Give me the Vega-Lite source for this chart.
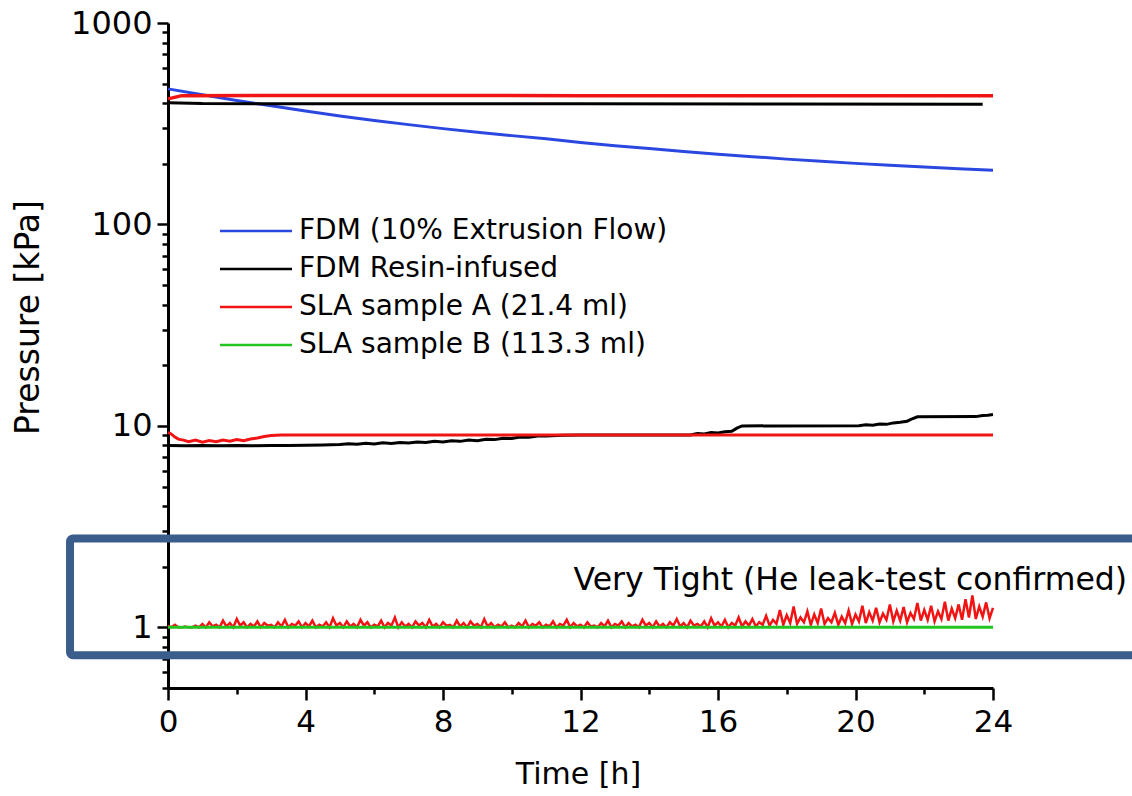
{
  "$schema": "https://vega.github.io/schema/vega-lite/v6.json",
  "width": 825,
  "height": 665,
  "autosize": {"type": "none"},
  "padding": {"left": 168, "top": 23, "right": 139, "bottom": 108},
  "background": "white",
  "config": {
    "view": {"stroke": null},
    "axis": {
      "grid": false,
      "domainColor": "#000000",
      "domainWidth": 3,
      "tickColor": "#000000",
      "tickWidth": 2.5,
      "labelColor": "#000000",
      "titleColor": "#000000",
      "labelFont": "DejaVu Sans",
      "titleFont": "DejaVu Sans",
      "titleFontWeight": "normal",
      "labelOverlap": false,
      "labelFlush": false
    },
    "legend": {
      "orient": "none",
      "legendX": 74,
      "legendY": 194,
      "title": null,
      "padding": 0,
      "symbolType": "M-3,0H3",
      "symbolSize": 576,
      "symbolStrokeWidth": 2.5,
      "labelFont": "DejaVu Sans",
      "labelFontSize": 28,
      "labelColor": "#000000",
      "labelOffset": 29,
      "labelLimit": 800,
      "rowPadding": 10
    }
  },
  "encoding": {
    "x": {
      "field": "t",
      "type": "quantitative",
      "scale": {"domain": [0, 24], "nice": false, "zero": false},
      "axis": {
        "title": "Time [h]",
        "values": [0, 2, 4, 6, 8, 10, 12, 14, 16, 18, 20, 22, 24],
        "labelExpr": "datum.value % 4 === 0 ? datum.label : ''",
        "tickSize": {"condition": {"test": "datum.value % 4 === 0", "value": 12}, "value": 6},
        "labelFontSize": 31,
        "labelPadding": 7,
        "titleFontSize": 30,
        "titleX": 410,
        "titleY": 95,
        "titleAlign": "center",
        "titleBaseline": "alphabetic"
      }
    },
    "y": {
      "field": "p",
      "type": "quantitative",
      "scale": {"type": "log", "domain": [0.5, 1000], "nice": false},
      "axis": {
        "title": "Pressure [kPa]",
        "values": [0.5, 0.6, 0.7, 0.8, 0.9, 1, 2, 3, 4, 5, 6, 7, 8, 9, 10, 20, 30, 40, 50, 60, 70, 80, 90, 100, 200, 300, 400, 500, 600, 700, 800, 900, 1000],
        "labelExpr": "indexof([1, 10, 100, 1000], datum.value) >= 0 ? format(datum.value, 'd') : ''",
        "tickSize": {"condition": {"test": "indexof([1, 10, 100, 1000], datum.value) >= 0", "value": 11}, "value": 6},
        "labelFontSize": 32,
        "labelPadding": 5,
        "titleFontSize": 33,
        "titleX": -140,
        "titleY": 294,
        "titleAngle": -90,
        "titleAlign": "center",
        "titleBaseline": "middle"
      }
    }
  },
  "layer": [
    {
      "data": {"values": [
        {"t": 0, "p": 8.0}, {"t": 0.5, "p": 7.97}, {"t": 1, "p": 8.0}, {"t": 1.5, "p": 7.98}, {"t": 2, "p": 8.0}, {"t": 2.5, "p": 7.98}, {"t": 3, "p": 8.0}, {"t": 3.5, "p": 8.0}, {"t": 4, "p": 8.02}, {"t": 4.5, "p": 8.05}, {"t": 5, "p": 8.08}, {"t": 5.25, "p": 8.16}, {"t": 5.5, "p": 8.1}, {"t": 5.75, "p": 8.2}, {"t": 6, "p": 8.14}, {"t": 6.25, "p": 8.24}, {"t": 6.5, "p": 8.18}, {"t": 6.75, "p": 8.28}, {"t": 7, "p": 8.22}, {"t": 7.25, "p": 8.33}, {"t": 7.5, "p": 8.27}, {"t": 7.75, "p": 8.38}, {"t": 8, "p": 8.32}, {"t": 8.25, "p": 8.43}, {"t": 8.5, "p": 8.38}, {"t": 8.75, "p": 8.5}, {"t": 9, "p": 8.45}, {"t": 9.25, "p": 8.58}, {"t": 9.5, "p": 8.55}, {"t": 9.75, "p": 8.68}, {"t": 10, "p": 8.65}, {"t": 10.25, "p": 8.8}, {"t": 10.5, "p": 8.78}, {"t": 10.75, "p": 8.9}, {"t": 11, "p": 8.9}, {"t": 11.5, "p": 8.98}, {"t": 12, "p": 9.0}, {"t": 15.2, "p": 9.02}, {"t": 15.4, "p": 9.18}, {"t": 15.6, "p": 9.12}, {"t": 15.8, "p": 9.26}, {"t": 16.0, "p": 9.22}, {"t": 16.2, "p": 9.35}, {"t": 16.4, "p": 9.4}, {"t": 16.55, "p": 9.75}, {"t": 16.7, "p": 10.0}, {"t": 20.1, "p": 10.02}, {"t": 20.3, "p": 10.12}, {"t": 20.5, "p": 10.08}, {"t": 20.7, "p": 10.22}, {"t": 20.9, "p": 10.18}, {"t": 21.1, "p": 10.35}, {"t": 21.3, "p": 10.42}, {"t": 21.5, "p": 10.55}, {"t": 21.65, "p": 10.85}, {"t": 21.8, "p": 11.1}, {"t": 23.5, "p": 11.12}, {"t": 23.7, "p": 11.25}, {"t": 23.85, "p": 11.3}, {"t": 24, "p": 11.4}
      ]},
      "mark": {"type": "line", "strokeWidth": 3},
      "encoding": {
        "color": {
          "datum": "FDM Resin-infused",
          "type": "nominal",
          "scale": {
            "domain": ["FDM (10% Extrusion Flow)", "FDM Resin-infused", "SLA sample A (21.4 ml)", "SLA sample B (113.3 ml)"],
            "range": ["#2a48e0", "#000000", "#f01414", "#22c422"]
          }
        }
      }
    },
    {
      "data": {"values": [
        {"t": 0, "p": 9.3}, {"t": 0.1, "p": 9.1}, {"t": 0.2, "p": 8.8}, {"t": 0.3, "p": 8.6}, {"t": 0.45, "p": 8.5}, {"t": 0.6, "p": 8.35}, {"t": 0.8, "p": 8.5}, {"t": 1.0, "p": 8.3}, {"t": 1.2, "p": 8.45}, {"t": 1.4, "p": 8.35}, {"t": 1.6, "p": 8.5}, {"t": 1.8, "p": 8.4}, {"t": 2.0, "p": 8.55}, {"t": 2.2, "p": 8.45}, {"t": 2.4, "p": 8.6}, {"t": 2.6, "p": 8.7}, {"t": 2.8, "p": 8.85}, {"t": 3.0, "p": 8.95}, {"t": 3.3, "p": 9.0}, {"t": 8, "p": 9.0}, {"t": 14, "p": 9.0}, {"t": 19, "p": 9.0}, {"t": 24, "p": 9.0}
      ]},
      "mark": {"type": "line", "strokeWidth": 3},
      "encoding": {"color": {"datum": "SLA sample A (21.4 ml)", "type": "nominal"}}
    },
    {
      "data": {"values": [
        {"t": 0.0, "p": 1.02}, {"t": 0.1, "p": 1.0}, {"t": 0.2, "p": 1.03}, {"t": 0.3, "p": 1.0}, {"t": 0.4, "p": 1.0}, {"t": 0.5, "p": 1.01}, {"t": 0.6, "p": 1.0}, {"t": 0.7, "p": 1.0}, {"t": 0.8, "p": 1.02}, {"t": 0.9, "p": 1.0},
        {"t": 1.0, "p": 1.04}, {"t": 1.1, "p": 1.0}, {"t": 1.2, "p": 1.06}, {"t": 1.3, "p": 1.01}, {"t": 1.4, "p": 1.03}, {"t": 1.5, "p": 1.0}, {"t": 1.6, "p": 1.08}, {"t": 1.7, "p": 1.01}, {"t": 1.8, "p": 1.05}, {"t": 1.9, "p": 1.0},
        {"t": 2.0, "p": 1.1}, {"t": 2.1, "p": 1.02}, {"t": 2.2, "p": 1.06}, {"t": 2.3, "p": 1.0}, {"t": 2.4, "p": 1.04}, {"t": 2.5, "p": 1.01}, {"t": 2.6, "p": 1.07}, {"t": 2.7, "p": 1.0}, {"t": 2.8, "p": 1.05}, {"t": 2.9, "p": 1.02},
        {"t": 3.0, "p": 1.03}, {"t": 3.1, "p": 1.0}, {"t": 3.2, "p": 1.06}, {"t": 3.3, "p": 1.01}, {"t": 3.4, "p": 1.09}, {"t": 3.5, "p": 1.0}, {"t": 3.6, "p": 1.04}, {"t": 3.7, "p": 1.02}, {"t": 3.8, "p": 1.07}, {"t": 3.9, "p": 1.0},
        {"t": 4.0, "p": 1.05}, {"t": 4.1, "p": 1.01}, {"t": 4.2, "p": 1.08}, {"t": 4.3, "p": 1.0}, {"t": 4.4, "p": 1.03}, {"t": 4.5, "p": 1.01}, {"t": 4.6, "p": 1.06}, {"t": 4.7, "p": 1.0}, {"t": 4.8, "p": 1.11}, {"t": 4.9, "p": 1.02},
        {"t": 5.0, "p": 1.05}, {"t": 5.1, "p": 1.0}, {"t": 5.2, "p": 1.07}, {"t": 5.3, "p": 1.01}, {"t": 5.4, "p": 1.04}, {"t": 5.5, "p": 1.0}, {"t": 5.6, "p": 1.09}, {"t": 5.7, "p": 1.02}, {"t": 5.8, "p": 1.06}, {"t": 5.9, "p": 1.0},
        {"t": 6.0, "p": 1.03}, {"t": 6.1, "p": 1.01}, {"t": 6.2, "p": 1.08}, {"t": 6.3, "p": 1.0}, {"t": 6.4, "p": 1.05}, {"t": 6.5, "p": 1.02}, {"t": 6.6, "p": 1.12}, {"t": 6.7, "p": 1.0}, {"t": 6.8, "p": 1.06}, {"t": 6.9, "p": 1.01},
        {"t": 7.0, "p": 1.04}, {"t": 7.1, "p": 1.0}, {"t": 7.2, "p": 1.07}, {"t": 7.3, "p": 1.02}, {"t": 7.4, "p": 1.05}, {"t": 7.5, "p": 1.0}, {"t": 7.6, "p": 1.09}, {"t": 7.7, "p": 1.01}, {"t": 7.8, "p": 1.04}, {"t": 7.9, "p": 1.0},
        {"t": 8.0, "p": 1.06}, {"t": 8.1, "p": 1.02}, {"t": 8.2, "p": 1.03}, {"t": 8.3, "p": 1.0}, {"t": 8.4, "p": 1.08}, {"t": 8.5, "p": 1.01}, {"t": 8.6, "p": 1.05}, {"t": 8.7, "p": 1.0}, {"t": 8.8, "p": 1.07}, {"t": 8.9, "p": 1.02},
        {"t": 9.0, "p": 1.04}, {"t": 9.1, "p": 1.0}, {"t": 9.2, "p": 1.1}, {"t": 9.3, "p": 1.01}, {"t": 9.4, "p": 1.05}, {"t": 9.5, "p": 1.0}, {"t": 9.6, "p": 1.03}, {"t": 9.7, "p": 1.01}, {"t": 9.8, "p": 1.06}, {"t": 9.9, "p": 1.0},
        {"t": 10.0, "p": 1.02}, {"t": 10.1, "p": 1.0}, {"t": 10.2, "p": 1.05}, {"t": 10.3, "p": 1.01}, {"t": 10.4, "p": 1.08}, {"t": 10.5, "p": 1.0}, {"t": 10.6, "p": 1.04}, {"t": 10.7, "p": 1.02}, {"t": 10.8, "p": 1.06}, {"t": 10.9, "p": 1.0},
        {"t": 11.0, "p": 1.03}, {"t": 11.1, "p": 1.01}, {"t": 11.2, "p": 1.07}, {"t": 11.3, "p": 1.0}, {"t": 11.4, "p": 1.04}, {"t": 11.5, "p": 1.02}, {"t": 11.6, "p": 1.09}, {"t": 11.7, "p": 1.0}, {"t": 11.8, "p": 1.05}, {"t": 11.9, "p": 1.01},
        {"t": 12.0, "p": 1.03}, {"t": 12.1, "p": 1.0}, {"t": 12.2, "p": 1.06}, {"t": 12.3, "p": 1.01}, {"t": 12.4, "p": 1.02}, {"t": 12.5, "p": 1.0}, {"t": 12.6, "p": 1.05}, {"t": 12.7, "p": 1.01}, {"t": 12.8, "p": 1.08}, {"t": 12.9, "p": 1.0},
        {"t": 13.0, "p": 1.04}, {"t": 13.1, "p": 1.02}, {"t": 13.2, "p": 1.07}, {"t": 13.3, "p": 1.0}, {"t": 13.4, "p": 1.05}, {"t": 13.5, "p": 1.01}, {"t": 13.6, "p": 1.03}, {"t": 13.7, "p": 1.0}, {"t": 13.8, "p": 1.09}, {"t": 13.9, "p": 1.02},
        {"t": 14.0, "p": 1.05}, {"t": 14.1, "p": 1.0}, {"t": 14.2, "p": 1.07}, {"t": 14.3, "p": 1.01}, {"t": 14.4, "p": 1.04}, {"t": 14.5, "p": 1.0}, {"t": 14.6, "p": 1.06}, {"t": 14.7, "p": 1.02}, {"t": 14.8, "p": 1.1}, {"t": 14.9, "p": 1.01},
        {"t": 15.0, "p": 1.05}, {"t": 15.1, "p": 1.0}, {"t": 15.2, "p": 1.08}, {"t": 15.3, "p": 1.02}, {"t": 15.4, "p": 1.04}, {"t": 15.5, "p": 1.01}, {"t": 15.6, "p": 1.07}, {"t": 15.7, "p": 1.0}, {"t": 15.8, "p": 1.11}, {"t": 15.9, "p": 1.02},
        {"t": 16.0, "p": 1.06}, {"t": 16.1, "p": 1.01}, {"t": 16.2, "p": 1.09}, {"t": 16.3, "p": 1.0}, {"t": 16.4, "p": 1.05}, {"t": 16.5, "p": 1.02}, {"t": 16.6, "p": 1.12}, {"t": 16.7, "p": 1.01}, {"t": 16.8, "p": 1.07}, {"t": 16.9, "p": 1.02},
        {"t": 17.0, "p": 1.1}, {"t": 17.1, "p": 1.01}, {"t": 17.2, "p": 1.06}, {"t": 17.3, "p": 1.03}, {"t": 17.4, "p": 1.14}, {"t": 17.5, "p": 1.02}, {"t": 17.6, "p": 1.09}, {"t": 17.7, "p": 1.04}, {"t": 17.8, "p": 1.22}, {"t": 17.9, "p": 1.03},
        {"t": 18.0, "p": 1.15}, {"t": 18.1, "p": 1.05}, {"t": 18.2, "p": 1.27}, {"t": 18.3, "p": 1.04}, {"t": 18.4, "p": 1.12}, {"t": 18.5, "p": 1.06}, {"t": 18.6, "p": 1.2}, {"t": 18.7, "p": 1.03}, {"t": 18.8, "p": 1.16}, {"t": 18.9, "p": 1.05},
        {"t": 19.0, "p": 1.24}, {"t": 19.1, "p": 1.04}, {"t": 19.2, "p": 1.11}, {"t": 19.3, "p": 1.06}, {"t": 19.4, "p": 1.18}, {"t": 19.5, "p": 1.03}, {"t": 19.6, "p": 1.13}, {"t": 19.7, "p": 1.05}, {"t": 19.8, "p": 1.21}, {"t": 19.9, "p": 1.04},
        {"t": 20.0, "p": 1.16}, {"t": 20.1, "p": 1.07}, {"t": 20.2, "p": 1.28}, {"t": 20.3, "p": 1.05}, {"t": 20.4, "p": 1.19}, {"t": 20.5, "p": 1.08}, {"t": 20.6, "p": 1.25}, {"t": 20.7, "p": 1.06}, {"t": 20.8, "p": 1.17}, {"t": 20.9, "p": 1.09},
        {"t": 21.0, "p": 1.3}, {"t": 21.1, "p": 1.07}, {"t": 21.2, "p": 1.21}, {"t": 21.3, "p": 1.08}, {"t": 21.4, "p": 1.26}, {"t": 21.5, "p": 1.06}, {"t": 21.6, "p": 1.18}, {"t": 21.7, "p": 1.1}, {"t": 21.8, "p": 1.32}, {"t": 21.9, "p": 1.08},
        {"t": 22.0, "p": 1.22}, {"t": 22.1, "p": 1.09}, {"t": 22.2, "p": 1.28}, {"t": 22.3, "p": 1.07}, {"t": 22.4, "p": 1.2}, {"t": 22.5, "p": 1.1}, {"t": 22.6, "p": 1.34}, {"t": 22.7, "p": 1.08}, {"t": 22.8, "p": 1.24}, {"t": 22.9, "p": 1.11},
        {"t": 23.0, "p": 1.3}, {"t": 23.1, "p": 1.09}, {"t": 23.2, "p": 1.38}, {"t": 23.3, "p": 1.12}, {"t": 23.4, "p": 1.44}, {"t": 23.5, "p": 1.1}, {"t": 23.6, "p": 1.27}, {"t": 23.7, "p": 1.13}, {"t": 23.8, "p": 1.33}, {"t": 23.9, "p": 1.11},
        {"t": 24.0, "p": 1.25}
      ]},
      "mark": {"type": "line", "strokeWidth": 2.5},
      "encoding": {"color": {"datum": "SLA sample A (21.4 ml)", "type": "nominal"}}
    },
    {
      "data": {"values": [{"t": 0, "p": 1.0}, {"t": 12, "p": 1.0}, {"t": 24, "p": 1.0}]},
      "mark": {"type": "line", "strokeWidth": 3},
      "encoding": {"color": {"datum": "SLA sample B (113.3 ml)", "type": "nominal"}}
    },
    {
      "data": {"values": [
        {"t": 0, "p": 471}, {"t": 1, "p": 440}, {"t": 2, "p": 412}, {"t": 3, "p": 388}, {"t": 4, "p": 366}, {"t": 5, "p": 345}, {"t": 6, "p": 328}, {"t": 7, "p": 313}, {"t": 8, "p": 299}, {"t": 9, "p": 287}, {"t": 10, "p": 276}, {"t": 11, "p": 266}, {"t": 12, "p": 255}, {"t": 13, "p": 246}, {"t": 14, "p": 238}, {"t": 15, "p": 230}, {"t": 16, "p": 223}, {"t": 17, "p": 217}, {"t": 18, "p": 211}, {"t": 19, "p": 206}, {"t": 20, "p": 201}, {"t": 21, "p": 197}, {"t": 22, "p": 193}, {"t": 23, "p": 189}, {"t": 24, "p": 186}
      ]},
      "mark": {"type": "line", "strokeWidth": 3},
      "encoding": {"color": {"datum": "FDM (10% Extrusion Flow)", "type": "nominal"}}
    },
    {
      "data": {"values": [
        {"t": 0, "p": 402}, {"t": 1, "p": 398}, {"t": 6, "p": 397}, {"t": 12, "p": 397}, {"t": 18, "p": 396}, {"t": 23.7, "p": 395}
      ]},
      "mark": {"type": "line", "strokeWidth": 3},
      "encoding": {"color": {"datum": "FDM Resin-infused", "type": "nominal"}}
    },
    {
      "data": {"values": [
        {"t": 0, "p": 420}, {"t": 0.4, "p": 436}, {"t": 4, "p": 437}, {"t": 8, "p": 437}, {"t": 12, "p": 436}, {"t": 16, "p": 436}, {"t": 20, "p": 436}, {"t": 24, "p": 436}
      ]},
      "mark": {"type": "line", "strokeWidth": 3.5},
      "encoding": {"color": {"datum": "SLA sample A (21.4 ml)", "type": "nominal"}}
    },
    {
      "data": {"values": [{"t": -2.85, "t2": 28.5, "p": 2.76, "p2": 0.727}]},
      "mark": {"type": "rect", "filled": false, "stroke": "#3b5d8c", "strokeWidth": 8, "cornerRadius": 3, "clip": false},
      "encoding": {"x2": {"field": "t2"}, "y2": {"field": "p2"}}
    },
    {
      "data": {"values": [{"t": 27.9, "p": 1.54, "label": "Very Tight (He leak-test confirmed)"}]},
      "mark": {"type": "text", "align": "right", "baseline": "alphabetic", "font": "DejaVu Sans", "fontSize": 31.5, "color": "#000000"},
      "encoding": {"text": {"field": "label", "type": "nominal"}}
    }
  ]
}
